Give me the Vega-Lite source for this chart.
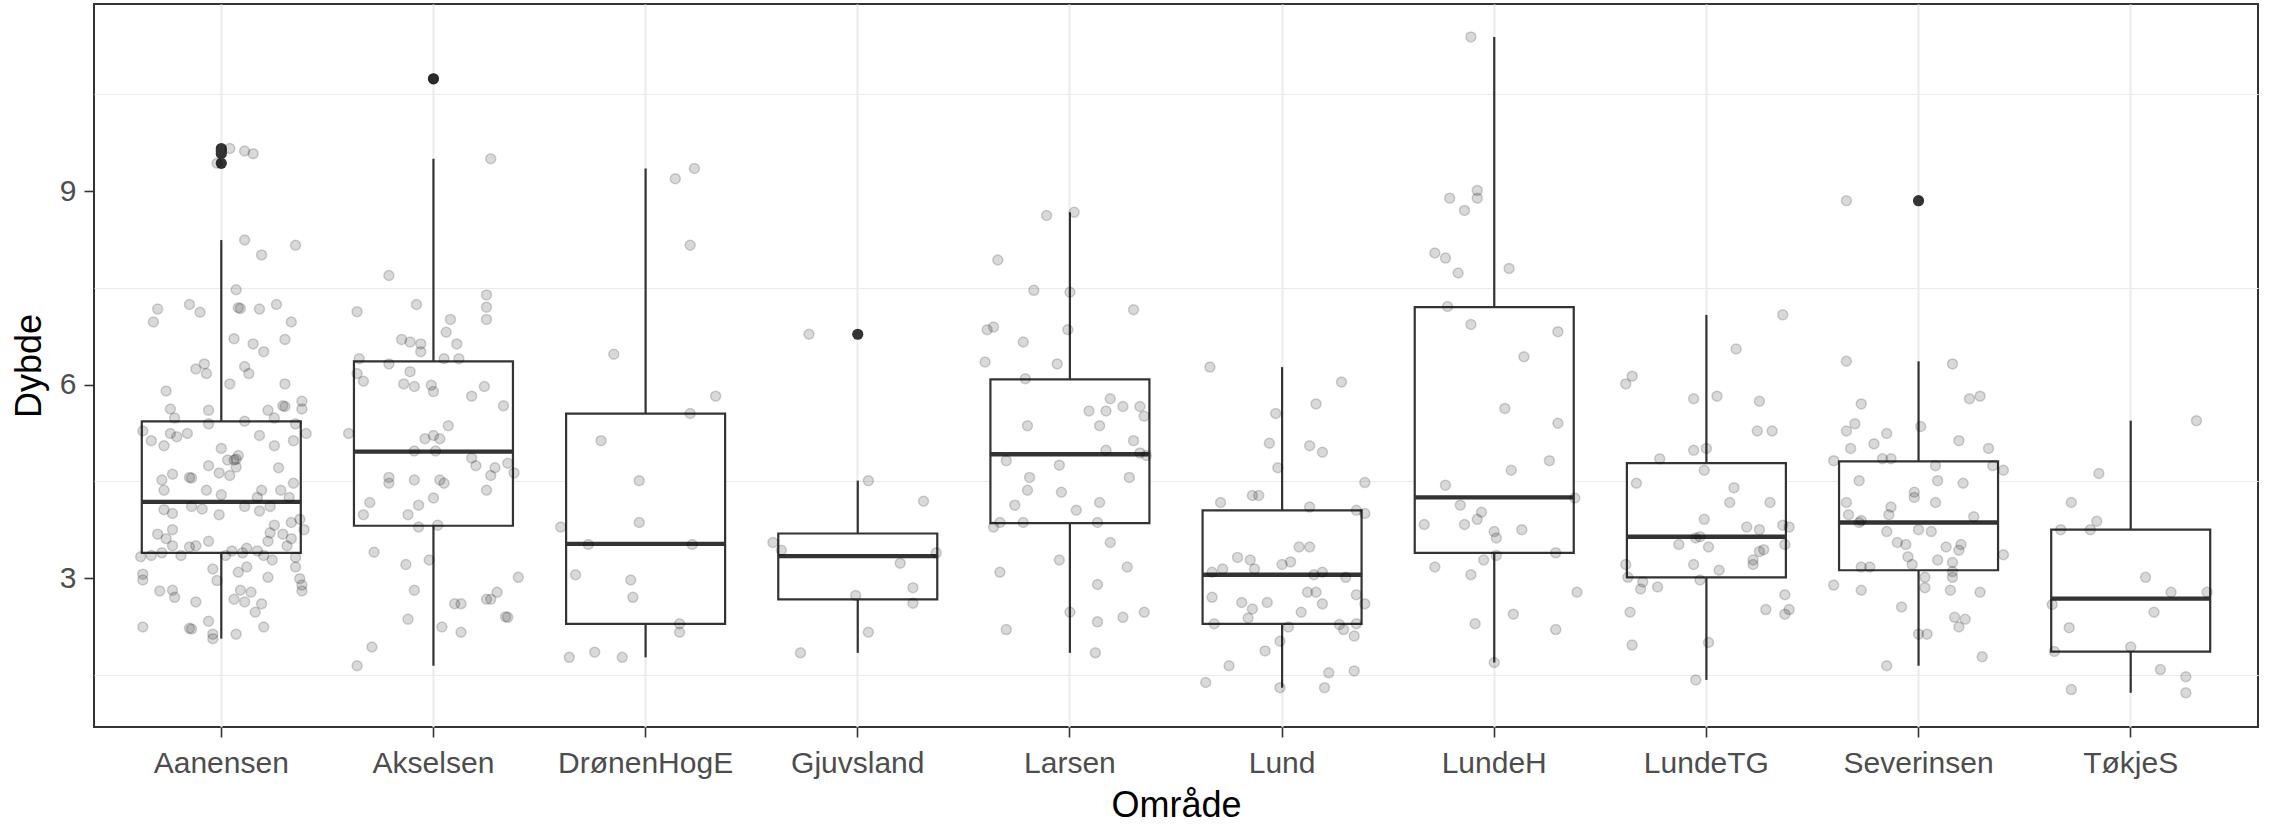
{
  "$schema": "https://vega.github.io/schema/vega-lite/v6.json",
  "width": 2164,
  "height": 723,
  "autosize": {"type": "none"},
  "padding": {"left": 94, "top": 4, "right": 14, "bottom": 97},
  "background": "white",
  "datasets": {
    "box": [
      {"g": "Aanensen", "lo": 2.06, "q1": 3.39, "med": 4.18, "q3": 5.43, "hi": 8.24},
      {"g": "Akselsen", "lo": 1.64, "q1": 3.81, "med": 4.96, "q3": 6.36, "hi": 9.50},
      {"g": "DrønenHogE", "lo": 1.77, "q1": 2.29, "med": 3.53, "q3": 5.55, "hi": 9.35},
      {"g": "Gjuvsland", "lo": 1.84, "q1": 2.67, "med": 3.34, "q3": 3.69, "hi": 4.51},
      {"g": "Larsen", "lo": 1.84, "q1": 3.85, "med": 4.92, "q3": 6.08, "hi": 8.67},
      {"g": "Lund", "lo": 1.30, "q1": 2.29, "med": 3.05, "q3": 4.05, "hi": 6.27},
      {"g": "LundeH", "lo": 1.69, "q1": 3.39, "med": 4.25, "q3": 7.20, "hi": 11.39},
      {"g": "LundeTG", "lo": 1.42, "q1": 3.01, "med": 3.64, "q3": 4.78, "hi": 7.08},
      {"g": "Severinsen", "lo": 1.64, "q1": 3.12, "med": 3.86, "q3": 4.81, "hi": 6.36},
      {"g": "TøkjeS", "lo": 1.22, "q1": 1.86, "med": 2.68, "q3": 3.75, "hi": 5.44}
    ],
    "out": [
      {"g": "Aanensen", "d": 9.66},
      {"g": "Aanensen", "d": 9.62},
      {"g": "Aanensen", "d": 9.58},
      {"g": "Aanensen", "d": 9.43},
      {"g": "Akselsen", "d": 10.74},
      {"g": "Gjuvsland", "d": 6.78},
      {"g": "Severinsen", "d": 8.85}
    ],
    "pts": [
      {"g":"Aanensen","d":9.66,"j":0.04},{"g":"Aanensen","d":9.62,"j":0.11},{"g":"Aanensen","d":9.58,"j":0.15},{"g":"Aanensen","d":9.43,"j":-0.02},
      {"g":"Aanensen","d":8.24,"j":0.11},{"g":"Aanensen","d":8.16,"j":0.35},{"g":"Aanensen","d":8.01,"j":0.19},{"g":"Aanensen","d":7.47,"j":0.07},
      {"g":"Aanensen","d":7.17,"j":-0.30},{"g":"Aanensen","d":7.24,"j":-0.15},{"g":"Aanensen","d":7.12,"j":-0.10},{"g":"Aanensen","d":7.19,"j":0.08},
      {"g":"Aanensen","d":7.18,"j":0.09},{"g":"Aanensen","d":7.17,"j":0.18},{"g":"Aanensen","d":7.24,"j":0.26},{"g":"Aanensen","d":6.97,"j":-0.32},
      {"g":"Aanensen","d":6.97,"j":0.33},{"g":"Aanensen","d":6.71,"j":0.06},{"g":"Aanensen","d":6.63,"j":0.15},{"g":"Aanensen","d":6.51,"j":0.20},
      {"g":"Aanensen","d":6.70,"j":0.30},{"g":"Aanensen","d":6.24,"j":-0.12},{"g":"Aanensen","d":6.32,"j":-0.08},{"g":"Aanensen","d":6.17,"j":-0.07},
      {"g":"Aanensen","d":6.28,"j":0.11},{"g":"Aanensen","d":6.17,"j":0.13},{"g":"Aanensen","d":5.90,"j":-0.26},{"g":"Aanensen","d":6.01,"j":0.04},
      {"g":"Aanensen","d":6.01,"j":0.30},{"g":"Aanensen","d":5.67,"j":0.29},{"g":"Aanensen","d":5.66,"j":0.30},{"g":"Aanensen","d":5.74,"j":0.38},
      {"g":"Aanensen","d":5.62,"j":0.38},{"g":"Aanensen","d":5.62,"j":-0.24},{"g":"Aanensen","d":5.48,"j":-0.22},{"g":"Aanensen","d":5.60,"j":-0.06},
      {"g":"Aanensen","d":5.39,"j":-0.06},{"g":"Aanensen","d":5.60,"j":0.22},{"g":"Aanensen","d":5.48,"j":0.25},{"g":"Aanensen","d":5.43,"j":0.11},
      {"g":"Aanensen","d":5.39,"j":0.35},{"g":"Aanensen","d":5.28,"j":-0.37},{"g":"Aanensen","d":5.13,"j":-0.33},{"g":"Aanensen","d":5.05,"j":-0.27},
      {"g":"Aanensen","d":5.24,"j":-0.24},{"g":"Aanensen","d":5.19,"j":-0.21},{"g":"Aanensen","d":5.24,"j":-0.16},{"g":"Aanensen","d":5.21,"j":0.18},
      {"g":"Aanensen","d":5.05,"j":0.25},{"g":"Aanensen","d":5.13,"j":0.34},{"g":"Aanensen","d":5.24,"j":0.40},{"g":"Aanensen","d":5.01,"j":0.00},
      {"g":"Aanensen","d":4.83,"j":0.03},{"g":"Aanensen","d":4.83,"j":0.06},{"g":"Aanensen","d":4.84,"j":0.07},{"g":"Aanensen","d":4.90,"j":0.08},
      {"g":"Aanensen","d":4.72,"j":0.07},{"g":"Aanensen","d":4.74,"j":-0.06},{"g":"Aanensen","d":4.63,"j":-0.01},{"g":"Aanensen","d":4.59,"j":0.04},
      {"g":"Aanensen","d":4.71,"j":0.27},{"g":"Aanensen","d":4.52,"j":-0.28},{"g":"Aanensen","d":4.61,"j":-0.23},{"g":"Aanensen","d":4.56,"j":-0.15},
      {"g":"Aanensen","d":4.55,"j":-0.14},{"g":"Aanensen","d":4.47,"j":0.34},{"g":"Aanensen","d":4.36,"j":-0.27},{"g":"Aanensen","d":4.36,"j":-0.07},
      {"g":"Aanensen","d":4.29,"j":0.00},{"g":"Aanensen","d":4.36,"j":0.19},{"g":"Aanensen","d":4.36,"j":0.28},{"g":"Aanensen","d":4.25,"j":0.17},
      {"g":"Aanensen","d":4.25,"j":0.32},{"g":"Aanensen","d":4.06,"j":-0.27},{"g":"Aanensen","d":4.00,"j":-0.23},{"g":"Aanensen","d":4.11,"j":-0.14},
      {"g":"Aanensen","d":4.07,"j":-0.09},{"g":"Aanensen","d":4.11,"j":0.11},{"g":"Aanensen","d":4.04,"j":0.18},{"g":"Aanensen","d":4.11,"j":0.23},
      {"g":"Aanensen","d":3.98,"j":-0.01},{"g":"Aanensen","d":3.75,"j":-0.23},{"g":"Aanensen","d":3.68,"j":-0.30},{"g":"Aanensen","d":3.61,"j":-0.26},
      {"g":"Aanensen","d":3.82,"j":0.25},{"g":"Aanensen","d":3.70,"j":0.23},{"g":"Aanensen","d":3.86,"j":0.33},{"g":"Aanensen","d":3.91,"j":0.37},
      {"g":"Aanensen","d":3.75,"j":0.39},{"g":"Aanensen","d":3.68,"j":0.29},{"g":"Aanensen","d":3.61,"j":0.33},{"g":"Aanensen","d":3.57,"j":-0.06},
      {"g":"Aanensen","d":3.50,"j":-0.23},{"g":"Aanensen","d":3.48,"j":-0.15},{"g":"Aanensen","d":3.50,"j":-0.12},{"g":"Aanensen","d":3.57,"j":0.22},
      {"g":"Aanensen","d":3.50,"j":0.31},{"g":"Aanensen","d":3.33,"j":-0.38},{"g":"Aanensen","d":3.35,"j":-0.33},{"g":"Aanensen","d":3.39,"j":-0.28},
      {"g":"Aanensen","d":3.35,"j":-0.19},{"g":"Aanensen","d":3.35,"j":0.02},{"g":"Aanensen","d":3.42,"j":0.05},{"g":"Aanensen","d":3.39,"j":0.10},
      {"g":"Aanensen","d":3.46,"j":0.12},{"g":"Aanensen","d":3.42,"j":0.17},{"g":"Aanensen","d":3.35,"j":0.20},{"g":"Aanensen","d":3.28,"j":0.24},
      {"g":"Aanensen","d":3.32,"j":0.35},{"g":"Aanensen","d":3.17,"j":0.35},{"g":"Aanensen","d":3.14,"j":-0.04},{"g":"Aanensen","d":2.96,"j":-0.02},
      {"g":"Aanensen","d":3.09,"j":0.08},{"g":"Aanensen","d":3.17,"j":0.12},{"g":"Aanensen","d":3.06,"j":-0.37},{"g":"Aanensen","d":2.97,"j":-0.37},
      {"g":"Aanensen","d":3.01,"j":0.22},{"g":"Aanensen","d":2.99,"j":0.37},{"g":"Aanensen","d":2.89,"j":0.38},{"g":"Aanensen","d":2.80,"j":0.38},
      {"g":"Aanensen","d":2.80,"j":-0.29},{"g":"Aanensen","d":2.81,"j":-0.23},{"g":"Aanensen","d":2.70,"j":-0.22},{"g":"Aanensen","d":2.63,"j":-0.12},
      {"g":"Aanensen","d":2.81,"j":0.09},{"g":"Aanensen","d":2.78,"j":0.14},{"g":"Aanensen","d":2.67,"j":0.06},{"g":"Aanensen","d":2.63,"j":0.11},
      {"g":"Aanensen","d":2.60,"j":0.19},{"g":"Aanensen","d":2.47,"j":0.16},{"g":"Aanensen","d":2.33,"j":-0.06},{"g":"Aanensen","d":2.22,"j":-0.15},
      {"g":"Aanensen","d":2.21,"j":-0.14},{"g":"Aanensen","d":2.24,"j":-0.37},{"g":"Aanensen","d":2.13,"j":-0.04},{"g":"Aanensen","d":2.06,"j":-0.04},
      {"g":"Aanensen","d":2.13,"j":0.07},{"g":"Aanensen","d":2.24,"j":0.20},

      {"g":"Akselsen","d":10.74,"j":0.00},{"g":"Akselsen","d":9.50,"j":0.27},{"g":"Akselsen","d":7.69,"j":-0.21},{"g":"Akselsen","d":7.13,"j":-0.36},
      {"g":"Akselsen","d":7.24,"j":-0.08},{"g":"Akselsen","d":7.39,"j":0.25},{"g":"Akselsen","d":7.20,"j":0.25},{"g":"Akselsen","d":7.01,"j":0.25},
      {"g":"Akselsen","d":7.01,"j":0.08},{"g":"Akselsen","d":6.81,"j":0.06},{"g":"Akselsen","d":6.70,"j":-0.15},{"g":"Akselsen","d":6.66,"j":-0.11},
      {"g":"Akselsen","d":6.63,"j":-0.06},{"g":"Akselsen","d":6.51,"j":-0.06},{"g":"Akselsen","d":6.63,"j":0.11},{"g":"Akselsen","d":6.40,"j":-0.35},
      {"g":"Akselsen","d":6.32,"j":-0.21},{"g":"Akselsen","d":6.40,"j":0.05},{"g":"Akselsen","d":6.40,"j":0.12},{"g":"Akselsen","d":6.17,"j":-0.36},
      {"g":"Akselsen","d":6.05,"j":-0.33},{"g":"Akselsen","d":6.20,"j":-0.11},{"g":"Akselsen","d":6.01,"j":-0.14},{"g":"Akselsen","d":5.97,"j":-0.09},
      {"g":"Akselsen","d":5.99,"j":-0.01},{"g":"Akselsen","d":5.89,"j":0.00},{"g":"Akselsen","d":5.82,"j":0.18},{"g":"Akselsen","d":5.97,"j":0.24},
      {"g":"Akselsen","d":5.67,"j":0.33},{"g":"Akselsen","d":5.24,"j":-0.40},{"g":"Akselsen","d":5.16,"j":-0.04},{"g":"Akselsen","d":5.21,"j":0.00},
      {"g":"Akselsen","d":5.16,"j":0.03},{"g":"Akselsen","d":5.36,"j":0.07},{"g":"Akselsen","d":4.97,"j":-0.09},{"g":"Akselsen","d":4.97,"j":0.01},
      {"g":"Akselsen","d":4.86,"j":0.18},{"g":"Akselsen","d":4.74,"j":0.20},{"g":"Akselsen","d":4.59,"j":0.27},{"g":"Akselsen","d":4.71,"j":0.29},
      {"g":"Akselsen","d":4.78,"j":0.35},{"g":"Akselsen","d":4.63,"j":0.38},{"g":"Akselsen","d":4.56,"j":-0.21},{"g":"Akselsen","d":4.47,"j":-0.21},
      {"g":"Akselsen","d":4.52,"j":-0.09},{"g":"Akselsen","d":4.52,"j":0.03},{"g":"Akselsen","d":4.47,"j":0.05},{"g":"Akselsen","d":4.36,"j":0.25},
      {"g":"Akselsen","d":4.17,"j":-0.30},{"g":"Akselsen","d":3.98,"j":-0.33},{"g":"Akselsen","d":4.13,"j":-0.07},{"g":"Akselsen","d":4.24,"j":0.00},
      {"g":"Akselsen","d":3.98,"j":-0.12},{"g":"Akselsen","d":3.79,"j":-0.07},{"g":"Akselsen","d":3.82,"j":0.02},{"g":"Akselsen","d":3.40,"j":-0.28},
      {"g":"Akselsen","d":3.21,"j":-0.13},{"g":"Akselsen","d":3.28,"j":-0.02},{"g":"Akselsen","d":3.01,"j":0.40},{"g":"Akselsen","d":2.81,"j":-0.09},
      {"g":"Akselsen","d":2.78,"j":0.30},{"g":"Akselsen","d":2.67,"j":0.25},{"g":"Akselsen","d":2.67,"j":0.27},{"g":"Akselsen","d":2.60,"j":0.10},
      {"g":"Akselsen","d":2.60,"j":0.13},{"g":"Akselsen","d":2.39,"j":0.35},{"g":"Akselsen","d":2.40,"j":0.34},{"g":"Akselsen","d":2.36,"j":-0.12},
      {"g":"Akselsen","d":2.24,"j":0.04},{"g":"Akselsen","d":2.16,"j":0.13},{"g":"Akselsen","d":1.93,"j":-0.29},{"g":"Akselsen","d":1.64,"j":-0.36},

      {"g":"DrønenHogE","d":9.35,"j":0.23},{"g":"DrønenHogE","d":9.19,"j":0.14},{"g":"DrønenHogE","d":8.16,"j":0.21},{"g":"DrønenHogE","d":6.47,"j":-0.15},
      {"g":"DrønenHogE","d":5.82,"j":0.33},{"g":"DrønenHogE","d":5.55,"j":0.21},{"g":"DrønenHogE","d":5.13,"j":-0.21},{"g":"DrønenHogE","d":4.51,"j":-0.03},
      {"g":"DrønenHogE","d":3.79,"j":-0.40},{"g":"DrønenHogE","d":3.86,"j":-0.03},{"g":"DrønenHogE","d":3.52,"j":-0.27},{"g":"DrønenHogE","d":3.52,"j":0.22},
      {"g":"DrønenHogE","d":3.05,"j":-0.33},{"g":"DrønenHogE","d":2.97,"j":-0.07},{"g":"DrønenHogE","d":2.70,"j":-0.06},{"g":"DrønenHogE","d":2.29,"j":0.16},
      {"g":"DrønenHogE","d":2.16,"j":0.16},{"g":"DrønenHogE","d":1.77,"j":-0.36},{"g":"DrønenHogE","d":1.85,"j":-0.24},{"g":"DrønenHogE","d":1.77,"j":-0.11},

      {"g":"Gjuvsland","d":6.78,"j":-0.23},{"g":"Gjuvsland","d":4.51,"j":0.05},{"g":"Gjuvsland","d":4.19,"j":0.31},{"g":"Gjuvsland","d":3.55,"j":-0.40},
      {"g":"Gjuvsland","d":3.43,"j":-0.36},{"g":"Gjuvsland","d":3.39,"j":0.37},{"g":"Gjuvsland","d":3.23,"j":0.20},{"g":"Gjuvsland","d":2.73,"j":-0.01},
      {"g":"Gjuvsland","d":2.85,"j":0.26},{"g":"Gjuvsland","d":2.61,"j":0.26},{"g":"Gjuvsland","d":2.16,"j":0.05},{"g":"Gjuvsland","d":1.84,"j":-0.27},

      {"g":"Larsen","d":8.67,"j":0.02},{"g":"Larsen","d":8.62,"j":-0.11},{"g":"Larsen","d":7.93,"j":-0.34},{"g":"Larsen","d":7.46,"j":-0.17},
      {"g":"Larsen","d":7.43,"j":0.00},{"g":"Larsen","d":7.16,"j":0.30},{"g":"Larsen","d":6.85,"j":-0.39},{"g":"Larsen","d":6.89,"j":-0.36},
      {"g":"Larsen","d":6.66,"j":-0.22},{"g":"Larsen","d":6.85,"j":-0.01},{"g":"Larsen","d":6.35,"j":-0.40},{"g":"Larsen","d":6.32,"j":-0.06},
      {"g":"Larsen","d":6.09,"j":-0.21},{"g":"Larsen","d":5.78,"j":0.19},{"g":"Larsen","d":5.59,"j":0.09},{"g":"Larsen","d":5.59,"j":0.17},
      {"g":"Larsen","d":5.66,"j":0.25},{"g":"Larsen","d":5.66,"j":0.33},{"g":"Larsen","d":5.51,"j":0.35},{"g":"Larsen","d":5.36,"j":-0.20},
      {"g":"Larsen","d":5.36,"j":0.14},{"g":"Larsen","d":5.13,"j":0.30},{"g":"Larsen","d":4.98,"j":0.17},{"g":"Larsen","d":4.94,"j":0.33},
      {"g":"Larsen","d":4.90,"j":0.36},{"g":"Larsen","d":4.82,"j":-0.30},{"g":"Larsen","d":4.75,"j":-0.05},{"g":"Larsen","d":4.56,"j":0.28},
      {"g":"Larsen","d":4.56,"j":-0.19},{"g":"Larsen","d":4.36,"j":-0.20},{"g":"Larsen","d":4.33,"j":-0.04},{"g":"Larsen","d":4.13,"j":-0.26},
      {"g":"Larsen","d":4.05,"j":0.03},{"g":"Larsen","d":4.17,"j":0.14},{"g":"Larsen","d":3.79,"j":-0.36},{"g":"Larsen","d":3.86,"j":-0.33},
      {"g":"Larsen","d":3.86,"j":-0.22},{"g":"Larsen","d":3.86,"j":0.13},{"g":"Larsen","d":3.55,"j":0.19},{"g":"Larsen","d":3.28,"j":-0.05},
      {"g":"Larsen","d":3.09,"j":-0.33},{"g":"Larsen","d":3.17,"j":0.27},{"g":"Larsen","d":2.90,"j":0.13},{"g":"Larsen","d":2.47,"j":0.00},
      {"g":"Larsen","d":2.32,"j":0.13},{"g":"Larsen","d":2.39,"j":0.25},{"g":"Larsen","d":2.47,"j":0.35},{"g":"Larsen","d":2.20,"j":-0.30},
      {"g":"Larsen","d":1.84,"j":0.12},

      {"g":"Lund","d":6.27,"j":-0.34},{"g":"Lund","d":6.04,"j":0.28},{"g":"Lund","d":5.70,"j":0.16},{"g":"Lund","d":5.55,"j":-0.03},
      {"g":"Lund","d":5.09,"j":-0.06},{"g":"Lund","d":5.05,"j":0.13},{"g":"Lund","d":4.95,"j":0.19},{"g":"Lund","d":4.71,"j":-0.02},
      {"g":"Lund","d":4.48,"j":0.39},{"g":"Lund","d":4.17,"j":-0.29},{"g":"Lund","d":4.28,"j":-0.14},{"g":"Lund","d":4.28,"j":-0.11},
      {"g":"Lund","d":4.10,"j":0.13},{"g":"Lund","d":4.05,"j":0.35},{"g":"Lund","d":4.00,"j":0.39},{"g":"Lund","d":3.48,"j":0.08},
      {"g":"Lund","d":3.48,"j":0.13},{"g":"Lund","d":3.32,"j":-0.21},{"g":"Lund","d":3.28,"j":-0.15},{"g":"Lund","d":3.14,"j":-0.28},
      {"g":"Lund","d":3.09,"j":-0.33},{"g":"Lund","d":3.14,"j":-0.13},{"g":"Lund","d":3.21,"j":0.00},{"g":"Lund","d":3.25,"j":0.04},
      {"g":"Lund","d":3.05,"j":0.15},{"g":"Lund","d":3.09,"j":0.19},{"g":"Lund","d":3.01,"j":0.30},{"g":"Lund","d":2.70,"j":-0.33},
      {"g":"Lund","d":2.62,"j":-0.19},{"g":"Lund","d":2.52,"j":-0.14},{"g":"Lund","d":2.62,"j":-0.07},{"g":"Lund","d":2.78,"j":0.12},
      {"g":"Lund","d":2.78,"j":0.16},{"g":"Lund","d":2.60,"j":0.19},{"g":"Lund","d":2.74,"j":0.35},{"g":"Lund","d":2.60,"j":0.39},
      {"g":"Lund","d":2.38,"j":-0.16},{"g":"Lund","d":2.47,"j":0.09},{"g":"Lund","d":2.29,"j":-0.32},{"g":"Lund","d":2.24,"j":0.03},
      {"g":"Lund","d":2.28,"j":0.27},{"g":"Lund","d":2.20,"j":0.29},{"g":"Lund","d":2.29,"j":0.35},{"g":"Lund","d":2.10,"j":0.34},
      {"g":"Lund","d":2.02,"j":-0.01},{"g":"Lund","d":1.87,"j":-0.08},{"g":"Lund","d":1.64,"j":-0.25},{"g":"Lund","d":1.38,"j":-0.36},
      {"g":"Lund","d":1.30,"j":-0.01},{"g":"Lund","d":1.30,"j":0.20},{"g":"Lund","d":1.53,"j":0.22},{"g":"Lund","d":1.56,"j":0.34},

      {"g":"LundeH","d":11.39,"j":-0.11},{"g":"LundeH","d":8.89,"j":-0.21},{"g":"LundeH","d":9.01,"j":-0.08},{"g":"LundeH","d":8.89,"j":-0.08},
      {"g":"LundeH","d":8.70,"j":-0.14},{"g":"LundeH","d":8.04,"j":-0.28},{"g":"LundeH","d":7.96,"j":-0.23},{"g":"LundeH","d":7.73,"j":-0.17},
      {"g":"LundeH","d":7.80,"j":0.07},{"g":"LundeH","d":7.21,"j":-0.22},{"g":"LundeH","d":6.93,"j":-0.11},{"g":"LundeH","d":6.82,"j":0.30},
      {"g":"LundeH","d":6.43,"j":0.14},{"g":"LundeH","d":5.63,"j":0.05},{"g":"LundeH","d":5.40,"j":0.30},{"g":"LundeH","d":4.82,"j":0.26},
      {"g":"LundeH","d":4.67,"j":0.08},{"g":"LundeH","d":4.44,"j":-0.23},{"g":"LundeH","d":4.24,"j":0.38},{"g":"LundeH","d":4.13,"j":-0.16},
      {"g":"LundeH","d":4.02,"j":-0.06},{"g":"LundeH","d":3.91,"j":-0.08},{"g":"LundeH","d":3.83,"j":-0.33},{"g":"LundeH","d":3.83,"j":-0.14},
      {"g":"LundeH","d":3.72,"j":0.00},{"g":"LundeH","d":3.62,"j":0.01},{"g":"LundeH","d":3.75,"j":0.13},{"g":"LundeH","d":3.39,"j":0.29},
      {"g":"LundeH","d":3.35,"j":0.01},{"g":"LundeH","d":3.28,"j":-0.05},{"g":"LundeH","d":3.17,"j":-0.28},{"g":"LundeH","d":3.05,"j":-0.11},
      {"g":"LundeH","d":2.78,"j":0.39},{"g":"LundeH","d":2.44,"j":0.09},{"g":"LundeH","d":2.29,"j":-0.09},{"g":"LundeH","d":2.20,"j":0.29},
      {"g":"LundeH","d":1.69,"j":0.00},

      {"g":"LundeTG","d":7.08,"j":0.36},{"g":"LundeTG","d":6.55,"j":0.14},{"g":"LundeTG","d":6.13,"j":-0.35},{"g":"LundeTG","d":6.01,"j":-0.38},
      {"g":"LundeTG","d":5.78,"j":-0.06},{"g":"LundeTG","d":5.82,"j":0.05},{"g":"LundeTG","d":5.74,"j":0.25},{"g":"LundeTG","d":5.28,"j":0.24},
      {"g":"LundeTG","d":5.28,"j":0.31},{"g":"LundeTG","d":4.85,"j":-0.22},{"g":"LundeTG","d":4.98,"j":-0.06},{"g":"LundeTG","d":5.01,"j":0.00},
      {"g":"LundeTG","d":4.67,"j":-0.01},{"g":"LundeTG","d":4.47,"j":-0.33},{"g":"LundeTG","d":4.40,"j":0.13},{"g":"LundeTG","d":4.17,"j":0.11},
      {"g":"LundeTG","d":4.17,"j":0.30},{"g":"LundeTG","d":3.91,"j":-0.01},{"g":"LundeTG","d":3.79,"j":0.19},{"g":"LundeTG","d":3.75,"j":0.25},
      {"g":"LundeTG","d":3.82,"j":0.36},{"g":"LundeTG","d":3.79,"j":0.39},{"g":"LundeTG","d":3.62,"j":-0.05},{"g":"LundeTG","d":3.64,"j":-0.03},
      {"g":"LundeTG","d":3.52,"j":-0.13},{"g":"LundeTG","d":3.48,"j":0.01},{"g":"LundeTG","d":3.41,"j":0.25},{"g":"LundeTG","d":3.44,"j":0.27},
      {"g":"LundeTG","d":3.28,"j":0.22},{"g":"LundeTG","d":3.21,"j":0.22},{"g":"LundeTG","d":3.52,"j":0.37},{"g":"LundeTG","d":3.21,"j":-0.38},
      {"g":"LundeTG","d":3.21,"j":-0.06},{"g":"LundeTG","d":3.12,"j":0.06},{"g":"LundeTG","d":3.01,"j":-0.37},{"g":"LundeTG","d":2.94,"j":-0.30},
      {"g":"LundeTG","d":2.83,"j":-0.31},{"g":"LundeTG","d":2.86,"j":-0.23},{"g":"LundeTG","d":2.97,"j":-0.03},{"g":"LundeTG","d":2.74,"j":0.37},
      {"g":"LundeTG","d":2.47,"j":-0.36},{"g":"LundeTG","d":2.51,"j":0.28},{"g":"LundeTG","d":2.44,"j":0.37},{"g":"LundeTG","d":2.51,"j":0.39},
      {"g":"LundeTG","d":1.96,"j":-0.35},{"g":"LundeTG","d":2.00,"j":0.01},{"g":"LundeTG","d":1.42,"j":-0.05},

      {"g":"Severinsen","d":8.85,"j":-0.34},{"g":"Severinsen","d":6.36,"j":-0.34},{"g":"Severinsen","d":6.32,"j":0.16},{"g":"Severinsen","d":5.70,"j":-0.27},
      {"g":"Severinsen","d":5.78,"j":0.24},{"g":"Severinsen","d":5.82,"j":0.29},{"g":"Severinsen","d":5.39,"j":-0.30},{"g":"Severinsen","d":5.28,"j":-0.34},
      {"g":"Severinsen","d":5.35,"j":0.01},{"g":"Severinsen","d":5.24,"j":-0.15},{"g":"Severinsen","d":5.08,"j":-0.21},{"g":"Severinsen","d":5.01,"j":-0.32},
      {"g":"Severinsen","d":5.13,"j":0.19},{"g":"Severinsen","d":5.01,"j":0.33},{"g":"Severinsen","d":4.82,"j":-0.40},{"g":"Severinsen","d":4.85,"j":-0.17},
      {"g":"Severinsen","d":4.85,"j":-0.13},{"g":"Severinsen","d":4.74,"j":0.08},{"g":"Severinsen","d":4.74,"j":0.35},{"g":"Severinsen","d":4.67,"j":0.40},
      {"g":"Severinsen","d":4.51,"j":-0.28},{"g":"Severinsen","d":4.51,"j":0.09},{"g":"Severinsen","d":4.47,"j":0.21},{"g":"Severinsen","d":4.33,"j":-0.02},
      {"g":"Severinsen","d":4.25,"j":-0.02},{"g":"Severinsen","d":4.17,"j":-0.34},{"g":"Severinsen","d":4.10,"j":-0.13},{"g":"Severinsen","d":3.98,"j":-0.14},
      {"g":"Severinsen","d":3.98,"j":-0.33},{"g":"Severinsen","d":4.17,"j":0.08},{"g":"Severinsen","d":3.95,"j":0.26},{"g":"Severinsen","d":3.86,"j":-0.28},
      {"g":"Severinsen","d":3.89,"j":-0.27},{"g":"Severinsen","d":3.72,"j":-0.15},{"g":"Severinsen","d":3.75,"j":0.00},{"g":"Severinsen","d":3.72,"j":0.06},
      {"g":"Severinsen","d":3.55,"j":-0.10},{"g":"Severinsen","d":3.52,"j":-0.06},{"g":"Severinsen","d":3.33,"j":-0.05},{"g":"Severinsen","d":3.21,"j":-0.03},
      {"g":"Severinsen","d":3.48,"j":0.13},{"g":"Severinsen","d":3.43,"j":0.19},{"g":"Severinsen","d":3.52,"j":0.20},{"g":"Severinsen","d":3.28,"j":0.09},
      {"g":"Severinsen","d":3.24,"j":0.16},{"g":"Severinsen","d":3.10,"j":0.16},{"g":"Severinsen","d":3.01,"j":0.16},{"g":"Severinsen","d":3.36,"j":0.40},
      {"g":"Severinsen","d":3.17,"j":-0.27},{"g":"Severinsen","d":3.17,"j":-0.23},{"g":"Severinsen","d":2.89,"j":-0.40},{"g":"Severinsen","d":2.81,"j":-0.27},
      {"g":"Severinsen","d":3.01,"j":0.03},{"g":"Severinsen","d":2.85,"j":0.03},{"g":"Severinsen","d":2.81,"j":0.15},{"g":"Severinsen","d":2.78,"j":0.29},
      {"g":"Severinsen","d":2.55,"j":-0.08},{"g":"Severinsen","d":2.39,"j":0.17},{"g":"Severinsen","d":2.36,"j":0.22},{"g":"Severinsen","d":2.24,"j":0.19},
      {"g":"Severinsen","d":2.13,"j":0.00},{"g":"Severinsen","d":2.13,"j":0.04},{"g":"Severinsen","d":1.78,"j":0.30},{"g":"Severinsen","d":1.64,"j":-0.15},

      {"g":"TøkjeS","d":5.44,"j":0.31},{"g":"TøkjeS","d":4.62,"j":-0.15},{"g":"TøkjeS","d":4.17,"j":-0.28},{"g":"TøkjeS","d":3.88,"j":-0.16},
      {"g":"TøkjeS","d":3.75,"j":-0.33},{"g":"TøkjeS","d":3.75,"j":-0.19},{"g":"TøkjeS","d":3.01,"j":0.07},{"g":"TøkjeS","d":2.78,"j":0.19},
      {"g":"TøkjeS","d":2.78,"j":0.36},{"g":"TøkjeS","d":2.59,"j":-0.37},{"g":"TøkjeS","d":2.47,"j":0.11},{"g":"TøkjeS","d":2.23,"j":-0.29},
      {"g":"TøkjeS","d":1.86,"j":-0.36},{"g":"TøkjeS","d":1.93,"j":0.00},{"g":"TøkjeS","d":1.58,"j":0.14},{"g":"TøkjeS","d":1.47,"j":0.26},
      {"g":"TøkjeS","d":1.27,"j":-0.28},{"g":"TøkjeS","d":1.22,"j":0.26}
    ]
  },
  "encoding": {
    "x": {
      "field": "g",
      "type": "nominal",
      "sort": ["Aanensen", "Akselsen", "DrønenHogE", "Gjuvsland", "Larsen", "Lund", "LundeH", "LundeTG", "Severinsen", "TøkjeS"],
      "scale": {"paddingInner": 0, "paddingOuter": 0.1},
      "axis": {
        "title": "Område",
        "labelAngle": 0,
        "labelPadding": 11,
        "bandPosition": 0.5,
        "grid": true,
        "titleY": 89,
        "titleBaseline": "alphabetic"
      }
    }
  },
  "layer": [
    {
      "data": {"name": "box"},
      "mark": {"type": "rule", "color": "#333333", "strokeWidth": 2.2},
      "encoding": {
        "y": {
          "field": "lo", "type": "quantitative",
          "scale": {"domain": [0.69, 11.9], "nice": false, "zero": false},
          "axis": {"orient": "right", "values": [1.5, 4.5, 7.5, 10.5], "labels": false, "ticks": false, "title": null, "gridWidth": 1.1}
        },
        "y2": {"field": "q1"}
      }
    },
    {
      "data": {"name": "box"},
      "mark": {"type": "rule", "color": "#333333", "strokeWidth": 2.2},
      "encoding": {
        "y": {
          "field": "q3", "type": "quantitative",
          "scale": {"domain": [0.69, 11.9], "nice": false, "zero": false},
          "axis": {"orient": "left", "values": [3, 6, 9], "title": "Dybde", "labelPadding": 8, "titleX": -54, "titleY": 361.5, "titleBaseline": "alphabetic"}
        },
        "y2": {"field": "hi"}
      }
    },
    {
      "data": {"name": "box"},
      "mark": {"type": "bar", "fill": "white", "stroke": "#333333", "strokeWidth": 2.2, "width": 159},
      "encoding": {
        "y": {"field": "q1", "type": "quantitative", "scale": {"domain": [0.69, 11.9], "nice": false, "zero": false}, "axis": null},
        "y2": {"field": "q3"}
      }
    },
    {
      "data": {"name": "box"},
      "mark": {"type": "tick", "color": "#333333", "thickness": 4.4, "size": 160, "opacity": 1, "orient": "horizontal"},
      "encoding": {
        "y": {"field": "med", "type": "quantitative", "scale": {"domain": [0.69, 11.9], "nice": false, "zero": false}, "axis": null}
      }
    },
    {
      "data": {"name": "out"},
      "mark": {"type": "point", "filled": true, "color": "#333333", "size": 125, "opacity": 1},
      "encoding": {
        "y": {"field": "d", "type": "quantitative", "scale": {"domain": [0.69, 11.9], "nice": false, "zero": false}, "axis": null}
      }
    },
    {
      "data": {"name": "pts"},
      "mark": {"type": "point", "shape": "circle", "filled": true, "size": 100, "fill": "#000000", "fillOpacity": 0.15, "stroke": "#000000", "strokeOpacity": 0.17, "strokeWidth": 1.5, "opacity": 1},
      "encoding": {
        "xOffset": {"field": "j", "type": "quantitative", "scale": {"domain": [-0.5, 0.5]}},
        "y": {"field": "d", "type": "quantitative", "scale": {"domain": [0.69, 11.9], "nice": false, "zero": false}, "axis": null}
      }
    }
  ],
  "resolve": {"axis": {"y": "independent"}},
  "config": {
    "font": "Liberation Sans",
    "view": {"stroke": "#333333", "strokeWidth": 2},
    "axis": {
      "domain": false,
      "gridColor": "#EBEBEB",
      "gridWidth": 2,
      "tickColor": "#333333",
      "tickWidth": 1.6,
      "tickSize": 10,
      "labelColor": "#4D4D4D",
      "labelFont": "Liberation Sans",
      "labelFontSize": 30,
      "titleFont": "Liberation Sans",
      "titleFontSize": 36,
      "titleFontWeight": "normal",
      "titleColor": "#000000"
    }
  }
}
